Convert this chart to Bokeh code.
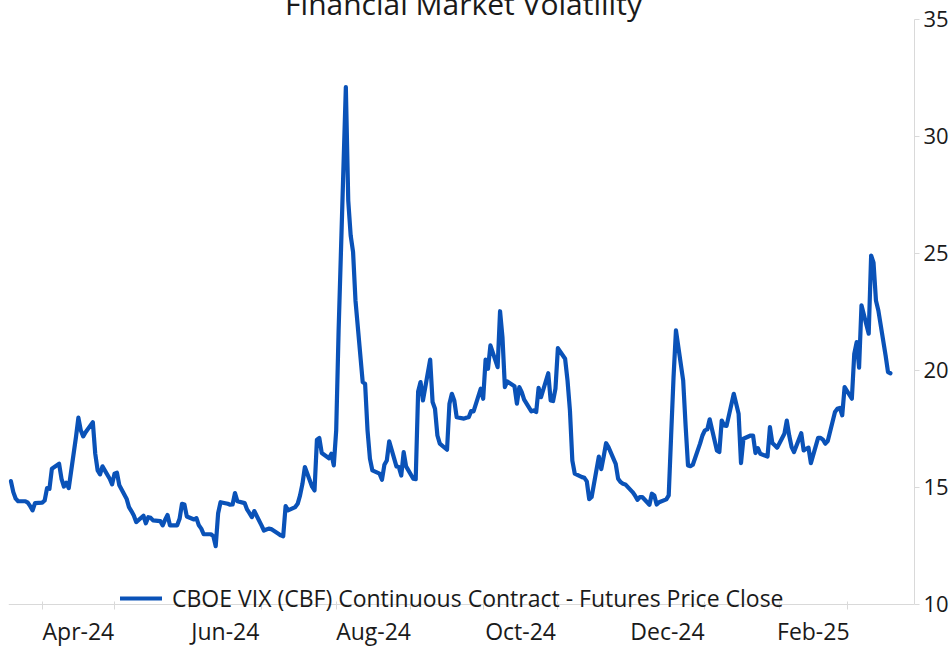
import pandas as pd
from bokeh.plotting import figure
from bokeh.models import (Range1d, FixedTicker, DatetimeTickFormatter, Label,
                          Legend, LegendItem, ColumnDataSource)
from bokeh.embed import file_html
from bokeh.resources import INLINE

title_text = "Financial Market Volatility"
series_name = "CBOE VIX (CBF) Continuous Contract - Futures Price Close"
start_date = "2024-03-19"
x_start = "2024-03-18"
x_end = "2025-03-29"
y_ticks = [10, 15, 20, 25, 30, 35]
# the frame fills the canvas; the axes themselves stay on 10..35
y_view_bottom = 8.16
y_view_top = 36.15

vix_close = [
    15.27, 14.80, 14.52, 14.41, 14.41, 14.35, 14.20, 14.02, 14.33, 14.35,
    14.44, 14.97, 14.94, 15.80, 16.01, 15.37, 15.04, 15.20, 14.97, 17.15,
    17.98, 17.44, 17.18, 17.36, 17.79, 16.44, 15.73, 15.56, 15.90, 15.37,
    15.13, 15.59, 15.63, 15.09, 14.52, 14.16, 13.99, 13.80, 13.52, 13.79,
    13.47, 13.73, 13.70, 13.59, 13.56, 13.38, 13.62, 13.82, 13.38, 13.38,
    13.66, 14.30, 14.27, 13.76, 13.63, 13.69, 13.38, 13.24, 13.00, 13.00,
    12.92, 12.49, 13.90, 14.37, 14.30, 14.26, 14.27, 14.76, 14.41, 14.33,
    14.06, 13.90, 13.73, 13.99, 13.38, 13.16, 13.20, 13.24, 13.22, 13.02,
    12.95, 12.91, 14.20, 14.02, 14.16, 14.30, 14.66, 15.16, 15.87, 15.03,
    14.87, 17.04, 17.11, 16.47, 16.25, 16.44, 15.94, 17.44, 21.71, 32.11,
    27.26, 25.77, 25.06, 22.99, 19.50, 19.43, 17.44, 16.23, 15.73, 15.59,
    15.33, 15.97, 16.15, 16.97, 15.90, 15.87, 15.51, 16.51, 15.90, 15.37,
    15.35, 19.10, 19.50, 18.72, 20.46, 18.65, 18.36, 17.22, 16.87, 16.61,
    18.58, 19.00, 18.72, 18.00, 17.94, 17.98, 18.00, 18.26, 18.25, 19.22,
    18.79, 20.46, 20.07, 21.07, 20.14, 22.53, 21.42, 19.29, 19.53, 19.32,
    18.58, 19.29, 19.07, 18.75, 18.25, 18.29, 18.22, 19.26, 18.86, 19.88,
    18.72, 18.69, 19.22, 20.95, 20.50, 19.57, 18.29, 16.15, 15.59, 15.44,
    15.41, 15.26, 14.50, 14.59, 16.32, 15.78, 16.32, 16.89, 16.72, 16.01,
    15.37, 15.23, 15.16, 15.13, 14.80, 14.66, 14.47, 14.59, 14.59, 14.26,
    14.73, 14.66, 14.27, 14.37, 14.49, 14.66, 17.22, 19.71, 21.71, 19.57,
    17.65, 15.94, 15.91, 15.97, 16.87, 17.22, 17.44, 17.48, 17.91, 16.58,
    16.51, 17.86, 17.65, 17.63, 19.00, 18.58, 18.15, 16.04, 17.08, 17.22,
    17.22, 16.47, 16.68, 16.44, 16.32, 17.58, 16.90, 16.80, 16.70, 17.29,
    17.86, 17.22, 16.72, 16.51, 17.32, 16.58, 16.65, 16.70, 16.04, 17.12,
    17.12, 17.04, 16.87, 16.98, 18.22, 18.36, 18.40, 18.08, 19.29, 18.79,
    20.71, 21.21, 20.12, 22.78, 21.57, 24.91, 24.60, 22.99, 22.56, 20.64,
    19.93, 19.88,
]

dates = pd.bdate_range(start_date, periods=len(vix_close))
src = ColumnDataSource(data=dict(date=dates, close=vix_close))

FONT = "Open Sans"
TEXT = "#1a1a1a"
AXIS = "#d9d9d9"
BLUE = "#0a52b8"

p = figure(width=959, height=655, x_axis_type="datetime",
           y_axis_location="right", output_backend="svg",
           toolbar_location=None, tools="",
           x_range=Range1d(pd.Timestamp(x_start), pd.Timestamp(x_end)),
           y_range=Range1d(y_view_bottom, y_view_top),
           min_border_left=16, min_border_right=0,
           min_border_top=0, min_border_bottom=0)
p.margin = (-8, -8, -8, -8)
p.outline_line_color = None
p.xgrid.visible = False
p.ygrid.visible = False
p.background_fill_color = "white"
p.border_fill_color = "white"

r = p.line(x="date", y="close", source=src, line_color=BLUE, line_width=4.2,
           line_join="round", line_cap="round")

# x axis: ticks at month starts, labels mid-month every other month
month_starts = pd.date_range("2024-04-01", "2025-03-01", freq="MS")
next_starts = month_starts + pd.offsets.MonthBegin(1)
mids = [a + (b - a) / 2 for a, b in zip(month_starts, next_starts)][::2]
to_ms = lambda t: t.value / 1e6
xt = FixedTicker(ticks=[to_ms(t) for t in mids],
                 minor_ticks=[to_ms(t) for t in month_starts])
p.xaxis.ticker = xt
p.xaxis.fixed_location = y_ticks[0]
fmt = "%b-%y"
p.xaxis.formatter = DatetimeTickFormatter(
    microseconds=fmt, milliseconds=fmt, seconds=fmt, minsec=fmt, minutes=fmt,
    hourmin=fmt, hours=fmt, days=fmt, months=fmt, years=fmt)
p.xaxis.axis_line_color = AXIS
p.xaxis.major_tick_line_color = None
p.xaxis.major_tick_in = 0
p.xaxis.major_tick_out = 0
p.xaxis.minor_tick_line_color = AXIS
p.xaxis.minor_tick_in = 3
p.xaxis.minor_tick_out = 5
p.xaxis.major_label_standoff = 6
p.xaxis.major_label_text_font = FONT
p.xaxis.major_label_text_font_size = "23px"
p.xaxis.major_label_text_color = TEXT

p.yaxis.ticker = FixedTicker(ticks=y_ticks)
p.yaxis.bounds = (y_ticks[0], y_ticks[-1])
p.yaxis.axis_line_color = AXIS
p.yaxis.major_tick_line_color = AXIS
p.yaxis.major_tick_in = 0
p.yaxis.major_tick_out = 5
p.yaxis.minor_tick_line_color = None
p.yaxis.major_label_standoff = 4
p.yaxis.major_label_text_font = FONT
p.yaxis.major_label_text_font_size = "22px"
p.yaxis.major_label_text_color = TEXT

title = Label(x=455, y=644, x_units="screen", y_units="screen",
              text=title_text, text_align="center", text_baseline="alphabetic",
              text_font=FONT, text_font_size="30px", text_color=TEXT)
p.add_layout(title)

legend = Legend(items=[LegendItem(label=series_name, renderers=[r])],
                location=(112, 33), orientation="horizontal",
                padding=0, margin=0, border_line_alpha=0,
                background_fill_alpha=0, label_text_font=FONT,
                label_text_font_size="23px", label_text_color=TEXT,
                glyph_width=42, glyph_height=20, label_standoff=10)
p.add_layout(legend)

open("out.html", "w").write(file_html(p, INLINE))
